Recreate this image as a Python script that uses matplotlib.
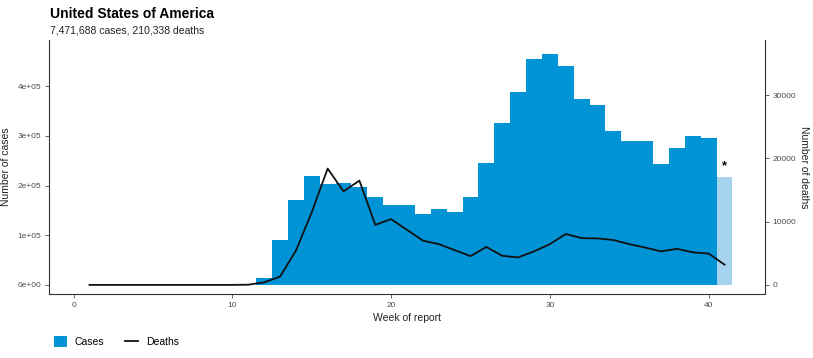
import matplotlib.pyplot as plt
import numpy as np
from matplotlib.lines import Line2D
from matplotlib.patches import Patch

plt.rcParams["font.family"] = ["Liberation Sans", "DejaVu Sans"]

weeks = np.arange(1, 42)
cases = [0, 0, 0, 0, 0, 0, 0, 0, 0, 0, 0,
         13000, 91000, 171000, 220000, 203000, 205000, 197000, 178000, 161000,
         161000, 143000, 152000, 146000, 178000, 245000, 326000, 388000, 455000,
         466000, 440000, 375000, 362000, 310000, 290000, 290000, 244000, 276000,
         299000, 296000, 217000]
deaths = [0, 0, 0, 0, 0, 0, 0, 0, 0, 0, 30,
          400, 1300, 5400, 11500, 18400, 14800, 16500, 9500, 10400,
          8700, 7000, 6450, 5500, 4550, 6000, 4600, 4350, 5300,
          6450, 8050, 7400, 7350, 7100, 6450, 5900, 5300, 5700,
          5150, 4950, 3200]
incomplete_week = 41

BLUE = "#0093d6"
LIGHT = "#a5d3ee"
GREY = "#4d4d4d"

fig = plt.figure(figsize=(8.13, 3.58), dpi=100)
ax = fig.add_axes([0.0603, 0.179, 0.8807, 0.709])

colors = [LIGHT if w == incomplete_week else BLUE for w in weeks]
ax.bar(weeks, cases, width=1.0, color=colors, linewidth=0)
last = cases[-1]
ax.text(incomplete_week, last + 22000, "*", ha="center", va="center",
        fontsize=9, fontweight="bold", color="black")

ax.set_xlim(-1.55, 43.55)
ax.set_ylim(-18200, 493000)
ax.set_xticks([0, 10, 20, 30, 40])
ax.set_yticks([0, 1e5, 2e5, 3e5, 4e5])
ax.set_yticklabels(["0e+00", "1e+05", "2e+05", "3e+05", "4e+05"])
ax.set_xlabel("Week of report", fontsize=7.5, color="#222222", labelpad=3)
ax.set_ylabel("Number of cases", fontsize=7.5, color="#222222")
ax.yaxis.set_label_coords(-0.053, 0.5)

ax2 = ax.twinx()
scale = 12.73
ax2.plot(weeks, deaths, color="#111111", lw=1.3)
ax2.set_ylim(-18200 / scale, 493000 / scale)
ax2.set_yticks([0, 10000, 20000, 30000])
ax2.set_ylabel("Number of deaths", fontsize=7.5, color="#222222",
               rotation=270, va="center")
ax2.yaxis.set_label_coords(1.055, 0.5)

for a in (ax, ax2):
    a.spines["top"].set_visible(False)
    for s in ("left", "right", "bottom"):
        a.spines[s].set_color("#333333")
        a.spines[s].set_linewidth(0.8)
    a.tick_params(labelsize=6, colors=GREY, length=3, width=0.6, pad=2.5)
ax.spines["right"].set_visible(False)
ax2.spines["left"].set_visible(False)
ax2.spines["bottom"].set_visible(False)

fig.text(0.0615, 0.962, "United States of America", fontsize=10,
         fontweight="bold", ha="left", va="center")
fig.text(0.0615, 0.915, "7,471,688 cases, 210,338 deaths", fontsize=7.5,
         color="#222222", ha="left", va="center")

handles = [Patch(facecolor=BLUE, edgecolor="none", label="Cases"),
           Line2D([0], [0], color="#111111", lw=1.3, label="Deaths")]
fig.legend(handles=handles, loc="center left", bbox_to_anchor=(0.055, 0.045),
           ncol=2, frameon=False, fontsize=7.5, handlelength=1.2,
           handleheight=1.2, columnspacing=2.0, handletextpad=0.8)

fig.savefig("out.png", dpi=100, facecolor="white")
